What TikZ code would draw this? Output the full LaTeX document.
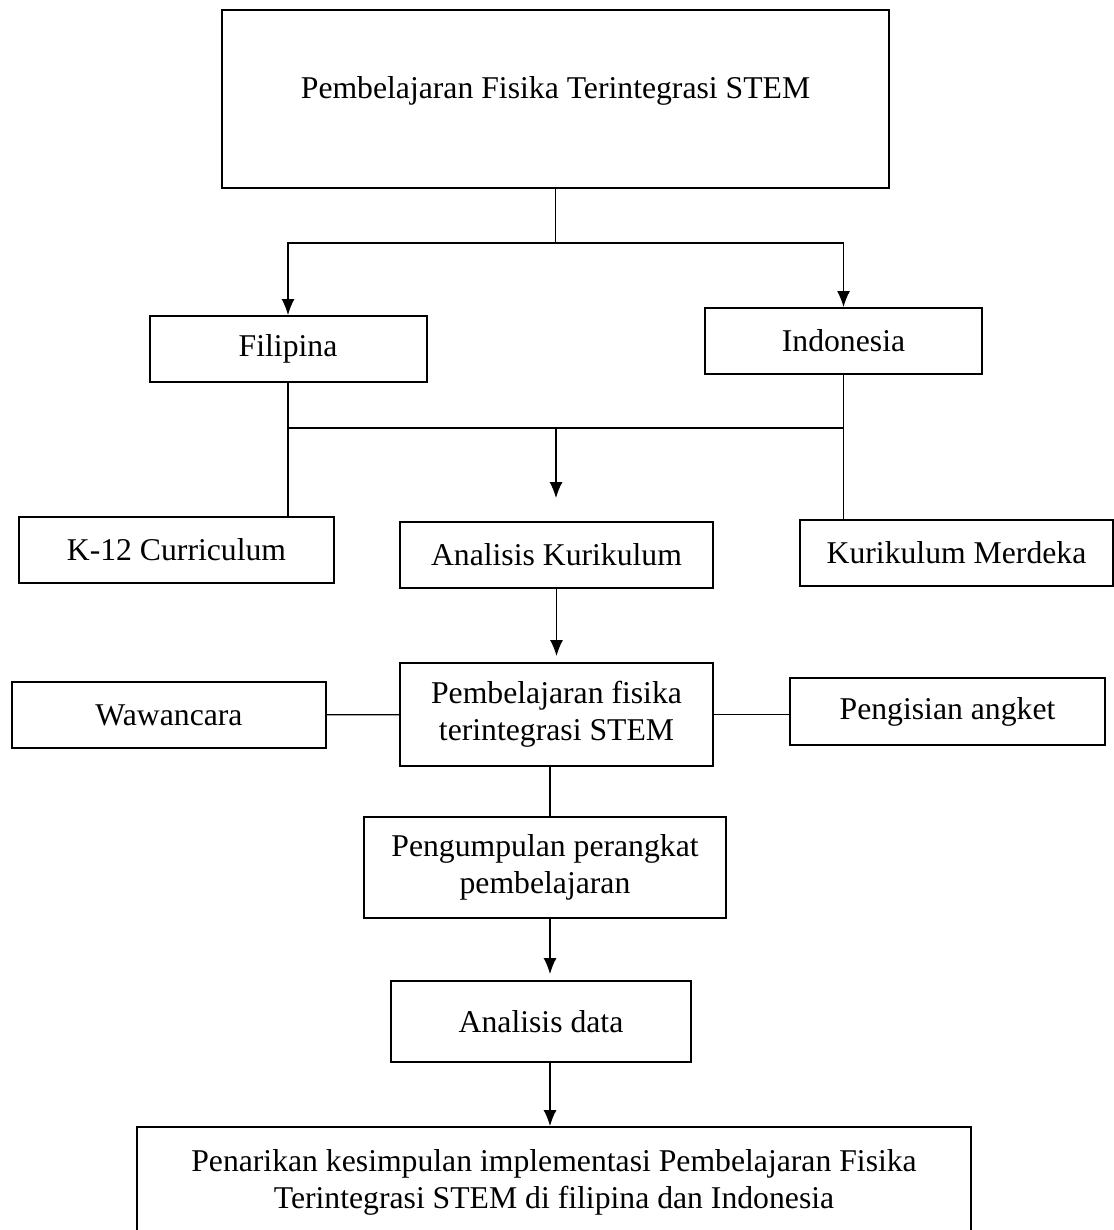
\documentclass[tikz,border=0pt]{standalone}
\usepackage{fontspec}
\setmainfont{Liberation Serif}
\usetikzlibrary{arrows.meta}

\begin{document}
\begin{tikzpicture}[x=0.5pt,y=-0.5pt,>={Latex[length=8pt,width=6.5pt]},
  box/.style={draw,line width=1pt,align=center,inner sep=2pt,font=\fontsize{15.85}{18.5}\selectfont},
  link/.style={line width=0.6pt}]
\useasboundingbox (0,0) rectangle (1113,1230);
% boxes
\node[box,minimum width=333.5pt,minimum height=89pt,text depth=11pt] (top) at (555.5,99) {Pembelajaran Fisika Terintegrasi STEM};
\node[box,minimum width=138.5pt,minimum height=33pt] (fil) at (288,349) {Filipina};
\node[box,minimum width=138.5pt,minimum height=33pt] (ind) at (843.5,341) {Indonesia};
\node[box,minimum width=157.5pt,minimum height=33pt] (k12) at (176.5,550) {K-12 Curriculum};
\node[box,minimum width=156.5pt,minimum height=33pt] (anak) at (556.5,555) {Analisis Kurikulum};
\node[box,minimum width=156.5pt,minimum height=33pt] (kurm) at (956.5,553) {Kurikulum Merdeka};
\node[box,minimum width=156.5pt,minimum height=51.5pt] (pemb) at (556.5,714.5) {Pembelajaran fisika\\terintegrasi STEM};
\node[box,minimum width=157pt,minimum height=33pt] (waw) at (169,715) {Wawancara};
\node[box,minimum width=157.5pt,minimum height=33.5pt] (angk) at (947.5,711.5) {Pengisian angket};
\node[box,minimum width=181pt,minimum height=50.5pt] (kump) at (545,867.5) {Pengumpulan perangkat\\pembelajaran};
\node[box,minimum width=150pt,minimum height=40.5pt] (data) at (541,1021.5) {Analisis data};
\node[box,minimum width=417pt,minimum height=55.5pt] (final) at (554,1182.5) {Penarikan kesimpulan implementasi Pembelajaran Fisika\\Terintegrasi STEM di filipina dan Indonesia};
% connectors
\coordinate (split) at (555.5,243);
\coordinate (merge) at (556,428);
\coordinate (mtip) at (556,498);
\coordinate (axis) at (550,0);
\draw[link] (top) -- (split);
\draw[link,->] (split) -| (fil);
\draw[link,->] (split) -| (ind);
\draw[link] (fil) -- (fil |- k12.north);
\draw[link] (ind) -- (ind |- kurm.north);
\draw[link] (fil |- merge) -- (ind |- merge);
\draw[link,->] (merge) -- (mtip);
\draw[link,->,shorten >=3pt] (anak) -- (pemb);
\draw[link] (waw) -- (pemb);
\draw[link] (pemb.east) -- (pemb.east -| angk.west);
\draw[link] (pemb.south -| axis) -- (kump.north -| axis);
\draw[link,->,shorten >=3pt] (kump.south -| axis) -- (data.north -| axis);
\draw[link,->] (data.south -| axis) -- (final.north -| axis);
\end{tikzpicture}
\end{document}
